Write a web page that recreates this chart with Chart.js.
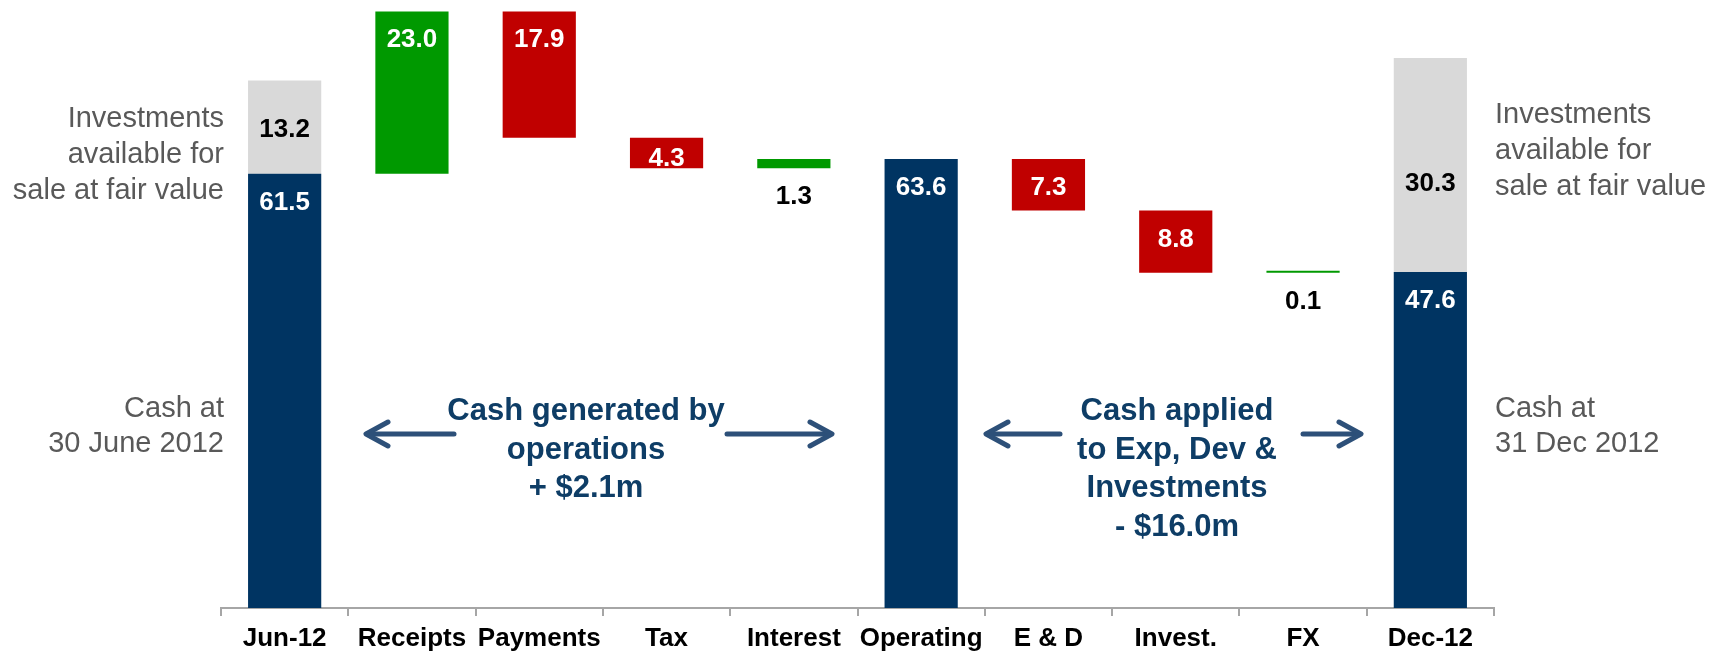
<!DOCTYPE html>
<html>
<head>
<meta charset="utf-8">
<script src="https://cdn.jsdelivr.net/npm/chart.js@4.4.0/dist/chart.umd.min.js"></script>
<style>
  body { margin: 0; background: #fff; }
  #wrap { width: 1717px; height: 655px; position: relative; }
</style>
</head>
<body>
<div id="wrap"><canvas id="chart-area"></canvas></div>
<script>
var categories = ["Jun-12", "Receipts", "Payments", "Tax", "Interest", "Operating", "E & D", "Invest.", "FX", "Dec-12"];
var cashBalance = [61.5, null, null, null, null, 63.6, null, null, null, 47.6];
var investments = [13.2, null, null, null, null, null, null, null, null, 30.3];
var movements = [null, 23.0, -17.9, -4.3, 1.3, null, -7.3, -8.8, 0.1, null];

var FONT = "'Liberation Sans', Arial, sans-serif";
var NAVY = "#003462";

// build floating ranges for the waterfall
var cashBars = [], invBars = [], upBars = [], downBars = [];
var running = cashBalance[0];
for (let i = 0; i < categories.length; i++) {
  cashBars.push(cashBalance[i] != null ? [0, cashBalance[i]] : null);
  invBars.push(investments[i] != null ? [cashBalance[i], cashBalance[i] + investments[i]] : null);
  let m = movements[i];
  if (m == null) {
    upBars.push(null);
    downBars.push(null);
    if (cashBalance[i] != null) running = cashBalance[i];
    continue;
  }
  let range = [running, running + m];
  upBars.push(m > 0 ? range : null);
  downBars.push(m < 0 ? range : null);
  running += m;
}

var valueLabels = {
  id: "valueLabels",
  afterDatasetsDraw(chart) {
    var ctx = chart.ctx;
    ctx.save();
    ctx.font = "bold 26px " + FONT;
    ctx.textAlign = "center";
    ctx.textBaseline = "alphabetic";
    chart.data.datasets.forEach((ds, di) => {
      var meta = chart.getDatasetMeta(di);
      meta.data.forEach((el, i) => {
        var v = ds.data[i];
        if (v == null) return;
        var val = Math.abs(v[1] - v[0]).toFixed(1);
        var top = Math.min(el.y, el.base);
        var bottom = Math.max(el.y, el.base);
        var h = bottom - top;
        var cy, color = ds.labelColor;
        if (ds.labelMode === "center") {
          cy = (top + bottom) / 2 + 1;
          if (h > 150) cy += 16; // tall grey block, label sits a bit lower
        } else if (h < 14) {
          cy = bottom + 27;
          color = "#000";
        } else {
          cy = Math.min(top + 27, (top + bottom) / 2 + 4);
        }
        ctx.fillStyle = color;
        ctx.fillText(val, el.x, cy + 9);
      });
    });
    ctx.restore();
  }
};

function arrow(ctx, x1, x2, y) {
  // x2 is the tip
  var dir = x2 > x1 ? 1 : -1;
  ctx.beginPath();
  ctx.moveTo(x1, y);
  ctx.lineTo(x2 - dir * 2, y);
  ctx.stroke();
  ctx.beginPath();
  ctx.moveTo(x2 - dir * 22, y - 12);
  ctx.lineTo(x2, y);
  ctx.lineTo(x2 - dir * 22, y + 12);
  ctx.stroke();
}

var notes = {
  id: "notes",
  afterDraw(chart) {
    var ctx = chart.ctx;
    ctx.save();
    ctx.textBaseline = "alphabetic";
    ctx.font = "29px " + FONT;
    ctx.fillStyle = "#595959";
    ctx.textAlign = "right";
    ["Investments", "available for", "sale at fair value"].forEach((t, k) => ctx.fillText(t, 224, 127 + k * 36));
    ["Cash at", "30 June 2012"].forEach((t, k) => ctx.fillText(t, 224, 417 + k * 35));
    ctx.textAlign = "left";
    ["Investments", "available for", "sale at fair value"].forEach((t, k) => ctx.fillText(t, 1495, 123 + k * 36));
    ["Cash at", "31 Dec 2012"].forEach((t, k) => ctx.fillText(t, 1495, 417 + k * 35));

    ctx.font = "bold 31px " + FONT;
    ctx.fillStyle = "#0E3D66";
    ctx.textAlign = "center";
    ["Cash generated by", "operations", "+ $2.1m"].forEach((t, k) => ctx.fillText(t, 586, 420 + k * 38.5));
    ["Cash applied", "to Exp, Dev &", "Investments", "- $16.0m"].forEach((t, k) => ctx.fillText(t, 1177, 420 + k * 38.5));

    ctx.strokeStyle = "#2D5079";
    ctx.lineWidth = 5;
    ctx.lineCap = "round";
    ctx.lineJoin = "round";
    arrow(ctx, 454, 366, 434);
    arrow(ctx, 727, 832, 434);
    arrow(ctx, 1060, 986, 434);
    arrow(ctx, 1303, 1361, 434);
    ctx.restore();
  }
};

var barCommon = { grouped: false, barPercentage: 0.575, categoryPercentage: 1, borderWidth: 0 };

var config = {
  type: "bar",
  data: {
    labels: categories,
    datasets: [
      Object.assign({ label: "Cash", data: cashBars, backgroundColor: NAVY, labelColor: "#fff" }, barCommon),
      Object.assign({ label: "Investments", data: invBars, backgroundColor: "#D9D9D9", labelColor: "#000", labelMode: "center" }, barCommon),
      Object.assign({ label: "Increase", data: upBars, backgroundColor: "#009900", labelColor: "#fff", minBarLength: 2 }, barCommon),
      Object.assign({ label: "Decrease", data: downBars, backgroundColor: "#C00000", labelColor: "#fff", minBarLength: 2 }, barCommon),
    ],
  },
  options: {
    responsive: true,
    maintainAspectRatio: false,
    animation: false,
    layout: { padding: { top: 10, left: 221, right: 223, bottom: 0 } },
    plugins: { legend: { display: false }, tooltip: { enabled: false } },
    scales: {
      x: {
        offset: true,
        grid: { display: true, drawOnChartArea: false, drawTicks: true, tickLength: 8, color: "#A6A6A6", lineWidth: 2, offset: true },
        border: { display: true, color: "#A6A6A6", width: 2 },
        ticks: { color: "#000", padding: 7, font: { family: FONT, size: 26, weight: "bold" }, maxRotation: 0, autoSkip: false },
        afterFit: function (scale) { scale.height = 47; },
      },
      y: { display: false, min: 0, max: 84.7 },
    },
  },
  plugins: [valueLabels, notes],
};

var ctx = document.getElementById("chart-area").getContext("2d");
window.chart = new Chart(ctx, config);
</script>
</body>
</html>
